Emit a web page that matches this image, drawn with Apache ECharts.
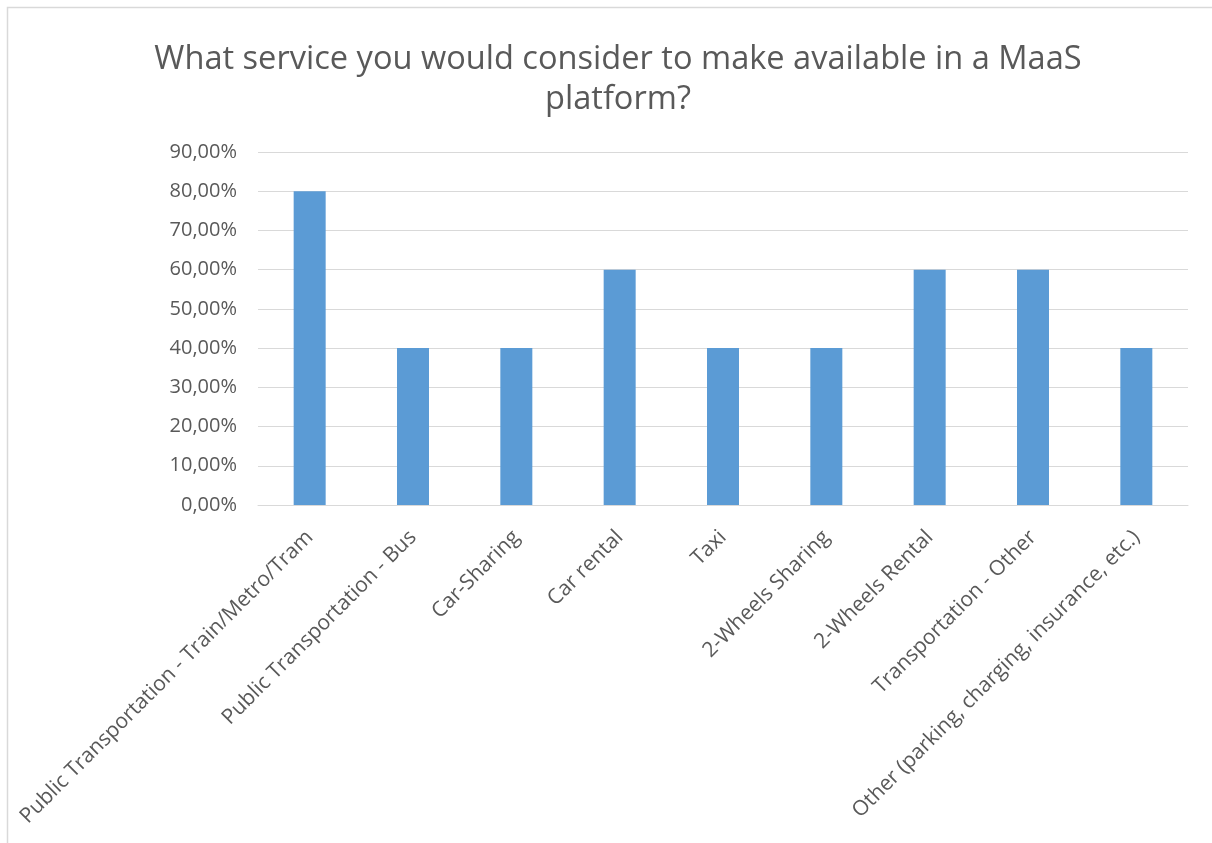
<!DOCTYPE html>
<html><head><meta charset="utf-8">
<script src="https://cdn.jsdelivr.net/npm/echarts@6/dist/echarts.min.js"></script>
<style>html,body{margin:0;padding:0;background:#fff}#c{width:1212px;height:843px}</style>
</head><body><div id="c"></div>
<script>
const categories = ["Public Transportation - Train/Metro/Tram","Public Transportation - Bus","Car-Sharing","Car rental","Taxi","2-Wheels Sharing","2-Wheels Rental","Transportation - Other","Other (parking, charging, insurance, etc.)"];
const values = [80, 40, 40, 60, 40, 40, 60, 60, 40];
const titleText = "What service you would consider to make available in a MaaS\nplatform?";
const chart = echarts.init(document.getElementById('c'));
chart.setOption({
  animation:false,
  graphic:[{type:'rect',shape:{x:7.5,y:7.5,width:1300,height:1000},style:{fill:'none',stroke:'#d9d9d9',lineWidth:1.5}}],
  title:{text:titleText,left:613,top:35,textAlign:'center',
    textStyle:{fontFamily:'Open Sans',fontSize:32.6,fontWeight:'normal',color:'#595959',lineHeight:40}},
  grid:{left:258,right:24,top:152,bottom:338},
  xAxis:{type:'category',data:categories,
    axisLine:{lineStyle:{color:'#d9d9d9',width:1}},axisTick:{show:false},
    axisLabel:{rotate:45,interval:0,margin:29,fontFamily:'Open Sans',fontSize:21,color:'#595959'}},
  yAxis:{type:'value',min:0,max:90,interval:10,
    axisLine:{show:false},axisTick:{show:false},
    splitLine:{lineStyle:{color:'#d9d9d9',width:1}},
    axisLabel:{margin:21,fontFamily:'Open Sans',fontSize:20,color:'#595959',
      formatter:v=>v.toFixed(2).replace('.',',')+'%'}},
  series:[{type:'bar',data:values,barWidth:32,itemStyle:{color:'#5b9bd5'}}]
});
</script></body></html>
